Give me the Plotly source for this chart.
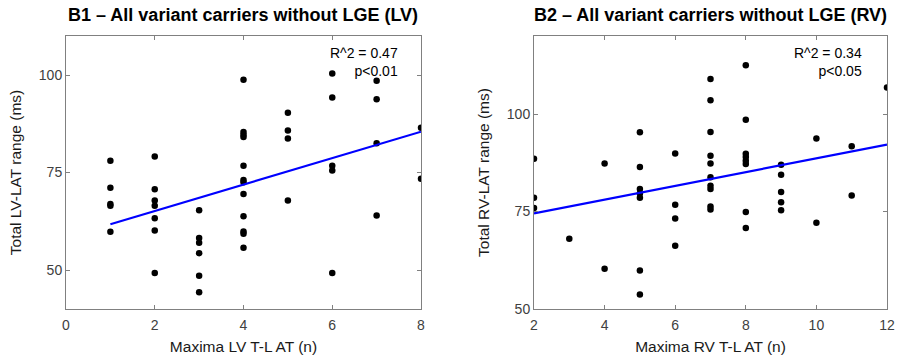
import numpy as np
import plotly.graph_objects as go

# ---- Data: panel B1 (LV) ----
lv_x = [1]*5 + [2]*7 + [3]*6 + [4]*12 + [5]*4 + [6]*5 + [7]*4 + [8]*2
lv_y = [78, 71.1, 66.9, 66.5, 59.8,
        79.1, 70.7, 67.8, 66.5, 63.3, 60.1, 49.2,
        65.3, 58.2, 57.0, 54.3, 48.5, 44.3,
        98.8, 85.4, 84.7, 84.1, 76.7, 73.1, 72.5, 69.5, 63.8, 59.9, 59.3, 55.7,
        90.3, 85.8, 83.7, 67.8,
        100.4, 94.2, 76.7, 75.5, 49.2,
        98.5, 93.8, 82.5, 64.0,
        86.5, 73.4]

# ---- Data: panel B2 (RV) ----
rv_x = [2]*3 + [3] + [4]*2 + [5]*7 + [6]*4 + [7]*10 + [8]*8 + [9]*5 + [10]*2 + [11]*2 + [12]
rv_y = [88.5, 78.5, 75.9,
        68.0,
        87.3, 60.3,
        95.3, 86.4, 80.8, 79.6, 78.5, 59.9, 53.7,
        89.9, 76.7, 73.2, 66.2,
        109.0, 103.5, 95.4, 89.3, 87.3, 83.8, 81.6, 80.8, 76.3, 75.5,
        112.5, 98.5, 89.8, 89.0, 88.0, 87.2, 74.9, 70.8,
        87.0, 84.4, 80.0, 77.4, 75.3,
        93.7, 72.1,
        91.7, 79.1,
        106.8]

titles = ["B1 \u2013 All variant carriers without LGE (LV)",
          "B2 \u2013 All variant carriers without LGE (RV)"]
xlabels = ["Maxima LV T-L AT (n)", "Maxima RV T-L AT (n)"]
ylabels = ["Total LV-LAT range (ms)", "Total RV-LAT range (ms)"]
stats = ["R^2 = 0.47<br>p<0.01", "R^2 = 0.34<br>p<0.05"]
lv_xticks = [0, 2, 4, 6, 8]
rv_xticks = [2, 4, 6, 8, 10, 12]
yticks = [50, 75, 100]

FONT = "Liberation Sans, Arial, sans-serif"
AXC = "#808080"
TICKC = "#404040"

fig = go.Figure()

def add_panel(xs, ys, xa, ya):
    xs = np.array(xs, float); ys = np.array(ys, float)
    fig.add_trace(go.Scatter(x=xs, y=ys, mode="markers", xaxis=xa, yaxis=ya,
                             marker=dict(color="black", size=6.5), showlegend=False))
    m, b = np.polyfit(xs, ys, 1)
    xl = np.array([xs.min(), xs.max()])
    fig.add_trace(go.Scatter(x=xl, y=m*xl + b, mode="lines", xaxis=xa, yaxis=ya,
                             line=dict(color="#0000ff", width=2.2), showlegend=False))

add_panel(lv_x, lv_y, "x", "y")
add_panel(rv_x, rv_y, "x2", "y2")

def axis(domain, rng, tickvals, title, anchor, standoff, tls):
    return dict(domain=domain, range=rng, tickvals=tickvals, anchor=anchor,
                showgrid=False, zeroline=False, showline=True, mirror="allticks",
                linecolor=AXC, linewidth=1, ticks="inside", ticklen=4, tickcolor=AXC,
                ticklabelstandoff=tls,
                tickfont=dict(family=FONT, size=14, color=TICKC),
                title=dict(text=title, font=dict(family=FONT, size=15.5, color="#1a1a1a"),
                           standoff=standoff),
                automargin=False)

ydom = [1 - 309/355, 1 - 36/355]
fig.update_layout(
    width=901, height=355,
    margin=dict(l=0, r=0, t=0, b=0),
    paper_bgcolor="white", plot_bgcolor="white",
    xaxis=axis([66/901, 421/901], [0, 8], lv_xticks, xlabels[0], "y", 9, 3),
    yaxis=axis(ydom, [40, 110], yticks, ylabels[0], "x", 13, 0),
    xaxis2=axis([534/901, 887/901], [2, 12], rv_xticks, xlabels[1], "y2", 9, 3),
    yaxis2=axis(ydom, [50, 120], yticks, ylabels[1], "x2", 13, 0),
)

for i, (xc, xr) in enumerate([(243, 400), (710, 864)]):
    fig.add_annotation(x=xc/901, y=1 - 15/355, xref="paper", yref="paper",
                       text="<b>%s</b>" % titles[i], showarrow=False,
                       font=dict(family=FONT, size=18, color="black"),
                       xanchor="center", yanchor="middle")
    fig.add_annotation(x=xr/901, y=1 - 43/355, xref="paper", yref="paper",
                       text=stats[i], showarrow=False, align="right",
                       font=dict(family=FONT, size=14, color="black"),
                       xanchor="right", yanchor="top")

fig.write_html("out.html")
